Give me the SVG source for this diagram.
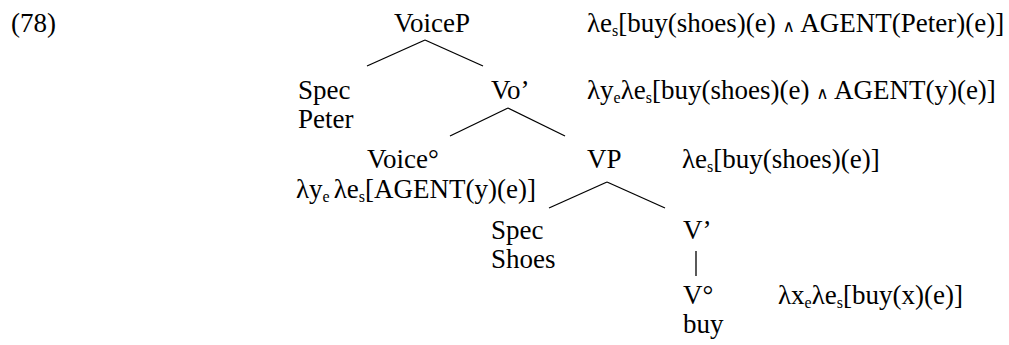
<svg xmlns="http://www.w3.org/2000/svg" width="1009" height="345" viewBox="0 0 1009 345">
  <style>
    text { font-family: "Liberation Serif", serif; font-size: 27px; fill: #000; }
    .sub { font-size: 16px; }
    .and { font-family: "DejaVu Sans", sans-serif; font-size: 17px; }
    line { stroke: #000; stroke-width: 1.3; }
  </style>
  <rect width="1009" height="345" fill="#fff"/>

  <text id="num" x="11" y="32">(78)</text>

  <!-- tree branches -->
  <g id="connectors">
    <line x1="425" y1="40" x2="367" y2="66"/>
    <line x1="425" y1="40" x2="483" y2="66"/>
    <line x1="508" y1="108" x2="450" y2="136"/>
    <line x1="508" y1="108" x2="565" y2="136"/>
    <line x1="607" y1="182" x2="549" y2="208"/>
    <line x1="607" y1="182" x2="665" y2="208"/>
    <line x1="696" y1="251" x2="696" y2="276"/>
  </g>

  <g id="voiceP">
    <text x="394" y="32">VoiceP</text>
    <text x="587" y="32">λe<tspan class="sub" dy="4">s</tspan><tspan dy="-4">[buy(shoes)(e) </tspan><tspan class="and">∧</tspan> AGENT(Peter)(e)]</text>
  </g>

  <g id="specPeter">
    <text x="298" y="99">Spec</text>
    <text x="298" y="128">Peter</text>
  </g>

  <g id="voiceBar">
    <text x="491" y="99">Vo’</text>
    <text x="587" y="99">λy<tspan class="sub" dy="4">e</tspan><tspan dy="-4">λe</tspan><tspan class="sub" dy="4">s</tspan><tspan dy="-4">[buy(shoes)(e) </tspan><tspan class="and">∧</tspan> AGENT(y)(e)]</text>
  </g>

  <g id="voiceHead">
    <text x="367" y="168">Voice°</text>
    <text x="296" y="198">λy<tspan class="sub" dy="4">e </tspan><tspan dy="-4">λe</tspan><tspan class="sub" dy="4">s</tspan><tspan dy="-4">[AGENT(y)(e)]</tspan></text>
  </g>

  <g id="vp">
    <text x="587" y="168">VP</text>
    <text x="682" y="168">λe<tspan class="sub" dy="4">s</tspan><tspan dy="-4">[buy(shoes)(e)]</tspan></text>
  </g>

  <g id="specShoes">
    <text x="491" y="239">Spec</text>
    <text x="491" y="268">Shoes</text>
  </g>

  <g id="vBar">
    <text x="683" y="239">V’</text>
  </g>

  <g id="vHead">
    <text x="683" y="304">V°</text>
    <text x="683" y="333">buy</text>
    <text x="778" y="304">λx<tspan class="sub" dy="4">e</tspan><tspan dy="-4">λe</tspan><tspan class="sub" dy="4">s</tspan><tspan dy="-4">[buy(x)(e)]</tspan></text>
  </g>
</svg>
